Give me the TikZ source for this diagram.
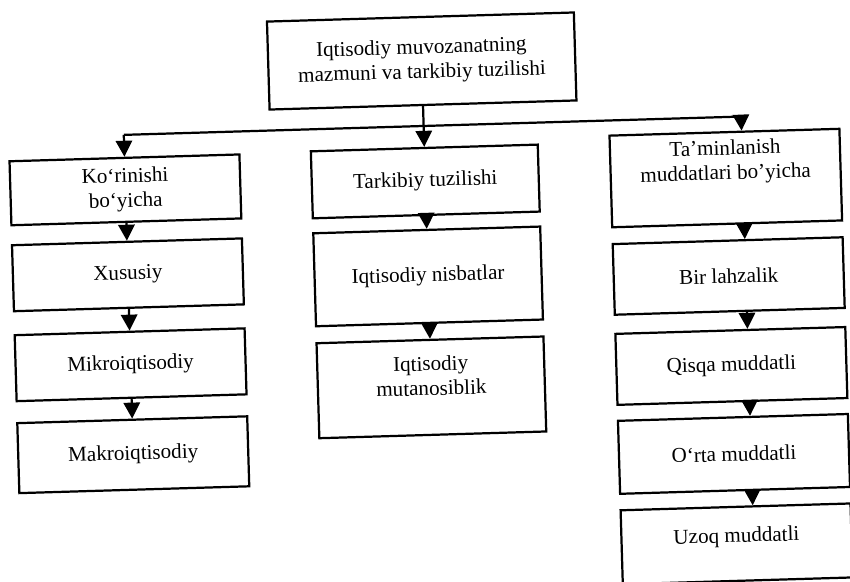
\documentclass[tikz,border=0pt]{standalone}
\usepackage{fontspec}
\setmainfont{Liberation Serif}
\usetikzlibrary{arrows.meta,calc}

\tikzset{
  blok/.style={draw,line width=1.9pt,inner sep=0pt,align=center,
    font=\fontsize{18}{21}\selectfont,minimum width=69mm},
  oq/.style={line width=1.9pt,-{Triangle[length=4.8mm,width=4.9mm]}}
}

\begin{document}
\begin{tikzpicture}[x=0.3mm,y=-0.3mm]
\useasboundingbox (0,0) rectangle (850,581);
\begin{scope}[rotate around={1.7:(425,290)},transform shape]
% bosh blok
\node[blok,minimum width=92.1mm,minimum height=26.4mm] (bosh) at (428.5,61)
  {Iqtisodiy muvozanatning\\mazmuni va tarkibiy tuzilishi};
% chap ustun
\node[blok,minimum height=19.2mm] (k1) at (128.5,181) {Ko‘rinishi\\bo‘yicha};
\node[blok,minimum height=19.8mm] (k2) at (128.5,266) {Xususiy};
\node[blok,minimum height=19.8mm] (k3) at (128.5,356) {Mikroiqtisodiy};
\node[blok,minimum height=21mm] (k4) at (128.5,446) {Makroiqtisodiy};
% o'rta ustun
\node[blok,minimum width=68.1mm,minimum height=20.1mm] (m1) at (428.5,181.5) {Tarkibiy tuzilishi};
\node[blok,minimum width=68.1mm,minimum height=27.9mm] (m2) at (428.5,276.5) {Iqtisodiy nisbatlar};
\node[blok,minimum width=68.1mm,minimum height=28.5mm,text depth=20pt] (m3) at (428.5,387.5)
  {Iqtisodiy\\mutanosiblik};
% o'ng ustun
\node[blok,minimum height=27.5mm,text depth=31pt] (t1) at (729,187)
  {Ta’minlanish\\muddatlari bo’yicha};
\node[blok,minimum height=21.2mm] (t2) at (729,285) {Bir lahzalik};
\node[blok,minimum height=21.3mm] (t3) at (729,375) {Qisqa muddatli};
\node[blok,minimum height=21.9mm] (t4) at (729,463) {O‘rta muddatli};
\node[blok,minimum height=22.2mm,text depth=15pt] (t5) at (729,553) {Uzoq muddatli};
% shina
\coordinate (chap) at (128.5,126);
\coordinate (ong) at (746,126);
\draw[line width=1.9pt] (chap) -- (ong);
\draw[oq] (chap) -- (k1.north);
\draw[oq] (ong) -- ($(t1.north)!0.148!(t1.north east)$);
\draw[oq] (bosh.south) -- (m1.north);
% ustunlar ichida
\draw[oq] (k1.south) -- (k2.north);
\draw[oq] (k2.south) -- (k3.north);
\draw[oq] (k3.south) -- (k4.north);
\draw[oq] (m1.south) -- (m2.north);
\draw[oq] (m2.south) -- (m3.north);
\draw[oq] ($(t1.south)!0.148!(t1.south east)$) -- ($(t2.north)!0.148!(t2.north east)$);
\draw[oq] ($(t2.south)!0.148!(t2.south east)$) -- ($(t3.north)!0.148!(t3.north east)$);
\draw[oq] ($(t3.south)!0.148!(t3.south east)$) -- ($(t4.north)!0.148!(t4.north east)$);
\draw[oq] ($(t4.south)!0.148!(t4.south east)$) -- ($(t5.north)!0.148!(t5.north east)$);
\end{scope}
\end{tikzpicture}
\end{document}
